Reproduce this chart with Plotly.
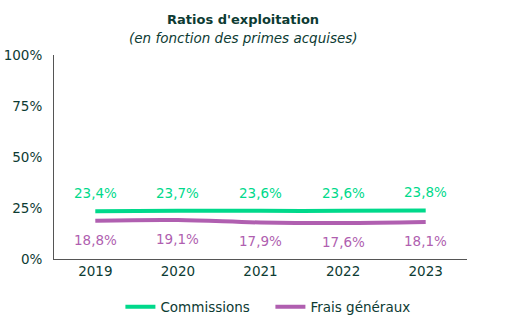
import plotly.graph_objects as go

years = ["2019", "2020", "2021", "2022", "2023"]
commissions = [23.4, 23.7, 23.6, 23.6, 23.8]
frais = [18.8, 19.1, 17.9, 17.6, 18.1]
y_ticks = [0, 25, 50, 75, 100]
y_tick_labels = ["0%", "25%", "50%", "75%", "100%"]

GREEN = "#00d98b"
PURPLE = "#b05fb0"
TXT = "#0d3b33"
FONT = "DejaVu Sans"

def fmt(v):
    return f"{v:.1f}%".replace(".", ",")

fig = go.Figure()
fig.add_trace(go.Scatter(x=years, y=commissions, name="Commissions", mode="lines",
                         line=dict(color=GREEN, width=4, shape="spline")))
fig.add_trace(go.Scatter(x=years, y=frais, name="Frais généraux", mode="lines",
                         line=dict(color=PURPLE, width=4, shape="spline")))

anns = []
for i, v in enumerate(commissions):
    anns.append(dict(x=i, y=v, xref="x", yref="y", text=fmt(v), showarrow=False,
                     yshift=18, font=dict(color=GREEN, size=13.5, family=FONT)))
for i, v in enumerate(frais):
    anns.append(dict(x=i, y=v, xref="x", yref="y", text=fmt(v), showarrow=False,
                     yshift=-19, font=dict(color=PURPLE, size=13.5, family=FONT)))
anns.append(dict(xref="paper", yref="paper", x=0.458, y=1, yshift=45, showarrow=False,
                 text="<b>Ratios d'exploitation</b>", font=dict(color=TXT, size=13, family=FONT)))
anns.append(dict(xref="paper", yref="paper", x=0.458, y=1, yshift=27, showarrow=False,
                 text="<i>(en fonction des primes acquises)</i>", font=dict(color=TXT, size=13.5, family=FONT)))

fig.update_layout(
    width=529, height=329,
    margin=dict(l=54, r=62, t=55, b=70, autoexpand=False),
    plot_bgcolor="white", paper_bgcolor="white",
    font=dict(family=FONT, color=TXT, size=13),
    annotations=anns,
    showlegend=True,
    legend=dict(orientation="h", x=0.524, xanchor="center", y=-0.235, yanchor="middle",
                font=dict(size=13.5, color=TXT, family=FONT), entrywidth=105, entrywidthmode="pixels"),
    xaxis=dict(type="category", range=[-0.5, 4.5], showline=True, linecolor="#555555",
               linewidth=1, showgrid=False, ticks="", tickfont=dict(size=13.5, color=TXT)),
    yaxis=dict(range=[0, 100], tickvals=y_ticks, ticktext=y_tick_labels, showline=True,
               linecolor="#555555", linewidth=1, showgrid=False, zeroline=False, ticks="",
               ticklabelstandoff=8, tickfont=dict(size=13.5, color=TXT)),
)
fig.write_html("out.html")
